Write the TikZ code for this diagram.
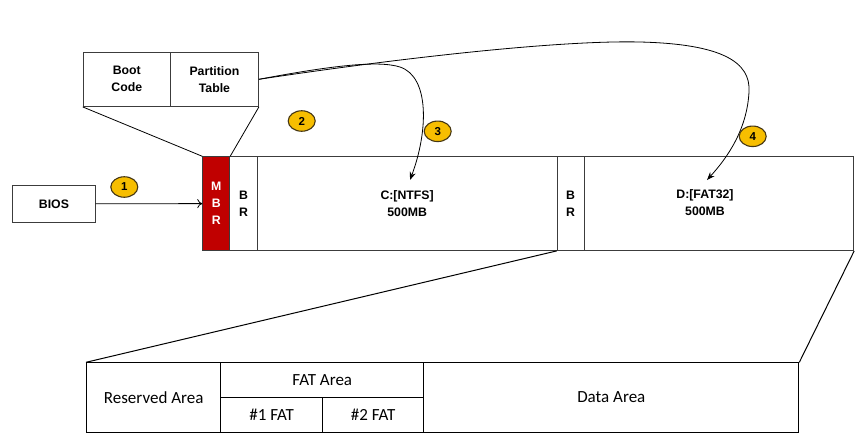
\documentclass[tikz,border=0pt]{standalone}
\usepackage{fontspec}
\setmainfont{Liberation Sans}
\newfontfamily\calib{Carlito}
\usetikzlibrary{arrows.meta,shapes.geometric}
\definecolor{mbrred}{RGB}{192,0,0}
\definecolor{badgegold}{RGB}{247,190,0}
\definecolor{boxline}{RGB}{60,60,60}
\definecolor{badgeline}{RGB}{70,55,20}
\begin{document}
\begin{tikzpicture}[x=1pt,y={(0pt,-1pt)},
  box/.style={draw=boxline, line width=0.9pt, inner sep=0pt, anchor=north west,
    font=\bfseries\fontsize{12.3}{17}\selectfont, align=center},
  tbl/.style={draw=black, line width=1pt, inner sep=0pt, anchor=north west,
    font=\calib\fontsize{17}{20}\selectfont, align=center},
  badge/.style={ellipse, draw=badgeline, line width=1.1pt, fill=badgegold,
    minimum width=27pt, minimum height=20.5pt, inner sep=0pt,
    font=\bfseries\fontsize{11.5}{12}\selectfont},
  link/.style={draw=black, line width=0.8pt},
  curvearrow/.style={draw=black, line width=0.8pt, -{Stealth[length=8pt,width=6pt]}},
]
\useasboundingbox (0,0) rectangle (857,437);

% MBR detail box
\node[box, minimum width=87.3pt, minimum height=54.3pt] (boot) at (82.7,51.7) {Boot\\Code};
\node[box, minimum width=88pt, minimum height=54.3pt] (ptab) at (170,51.7) {Partition\\Table};

% BIOS
\node[box, minimum width=82.4pt, minimum height=36.7pt] (bios) at (12.3,185) {BIOS};

% disk strip
\node[box, fill=mbrred, text=white, minimum width=27pt, minimum height=93.7pt] (mbr) at (202.3,156.3) {M\\B\\R};
\node[box, minimum width=27.4pt, minimum height=93.7pt] (br1) at (229.3,156.3) {B\\R};
\node[box, minimum width=300pt, minimum height=93.7pt] (cdrv) at (256.7,156.3) {C:[NTFS]\\500MB};
\node[box, minimum width=27pt, minimum height=93.7pt] (br2) at (556.7,156.3) {B\\R};
\node[box, minimum width=269.6pt, minimum height=93.7pt] (ddrv) at (583.7,156.3) {};
\node[font=\bfseries\fontsize{12.3}{17}\selectfont, align=center] (dlab) at (705,203) {D:[FAT32]\\500MB};

% FAT32 layout table
\node[tbl, minimum width=134.3pt, minimum height=69.4pt] (res) at (86,362.3) {Reserved Area};
\node[tbl, minimum width=203pt, minimum height=34.7pt] (fata) at (220.3,362.3) {FAT Area};
\node[tbl, minimum width=101.7pt, minimum height=34.7pt] (fat1) at (220.3,397) {\#1 FAT};
\node[tbl, minimum width=101.3pt, minimum height=34.7pt] (fat2) at (322,397) {\#2 FAT};
\node[tbl, minimum width=375pt, minimum height=69.4pt] (data) at (423.3,362.3) {Data Area};

% zoom lines
\draw[link] (boot.south west) -- (mbr.north west);
\draw[link] (ptab.south east) -- (mbr.north east);
\draw[link, line width=1pt] (res.north west) -- (br2.south west);
\draw[link, line width=1pt] (data.north east) -- (ddrv.south east);

% BIOS to MBR
\draw[draw=black, line width=0.8pt, -{To[length=5pt,width=9pt]}] (bios.east) -- (mbr.west);

% partition table to partitions
\coordinate (c3) at (410,180);
\coordinate (c4) at (707,180);
\draw[curvearrow] (ptab.east) .. controls (330,66) and (378,60) .. (400,67)
  .. controls (430,77) and (428,132) .. (c3);
\draw[curvearrow] (ptab.east) .. controls (400,58) and (560,40) .. (640,42)
  .. controls (722,44) and (751,62) .. (749,92)
  .. controls (747,130) and (727,158) .. (c4);

% badges
\node[badge] (b1) at (124.3,187) {1};
\node[badge] (b2) at (301.7,121) {2};
\node[badge] (b3) at (437.7,131.3) {3};
\node[badge] (b4) at (752.7,136.3) {4};
\end{tikzpicture}
\end{document}
